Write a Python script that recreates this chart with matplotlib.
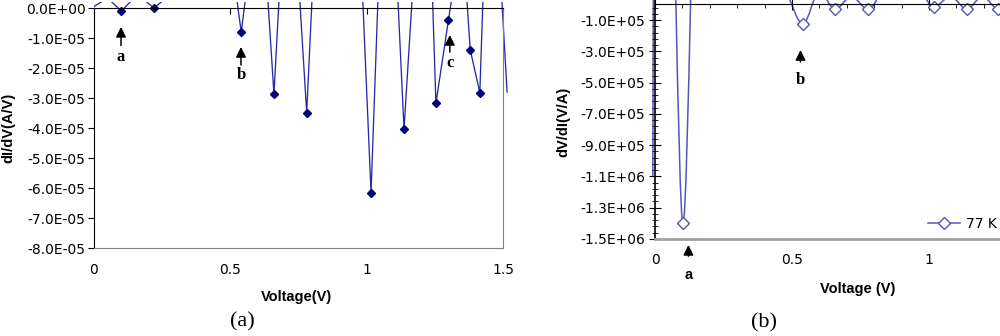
import numpy as np
import matplotlib
matplotlib.use('Agg')
import matplotlib.pyplot as plt
from matplotlib.path import Path
from matplotlib.patches import PathPatch, Rectangle
from matplotlib.lines import Line2D
from matplotlib.ticker import FixedLocator, MultipleLocator

plt.rcParams['font.family'] = ['Liberation Sans', 'DejaVu Sans']
plt.rcParams['font.size'] = 10

# (a) dI/dV vs voltage, in units of 1E-05 A/V (peaks run off the top of the axis)
volt_a = np.array([0.0, 0.05, 0.10, 0.16, 0.22, 0.28, 0.47, 0.54, 0.61, 0.66, 0.714,
                   0.78, 0.897, 1.016, 1.073, 1.137, 1.216, 1.254, 1.30, 1.35, 1.38,
                   1.415, 1.452, 1.515])
didv_a = np.array([0.05, 0.33, -0.10, 0.45, 0.0, 0.45, 3.9, -0.8, 4.2, -2.88, 6.3,
                   -3.49, 19.1, -6.16, 8.3, -4.04, 7.5, -3.18, -0.4, 2.6, -1.4,
                   -2.82, 7.2, -2.8]) * 1e-5

# (b) dV/dI vs voltage at 77 K, in units of 1E+05 V/A
volt_b = np.array([-0.008, -0.006, 0.05, 0.102, 0.16, 0.48, 0.54, 0.60, 0.657, 0.717,
                   0.777, 0.90, 1.018, 1.078, 1.138, 1.195, 1.253, 1.31])
dvdi_b = np.array([-11.0, 0.6, 14.6, -14.0, 16.1, 0.82, -1.25, 0.82, -0.31, 0.5,
                   -0.31, 3.3, -0.15, 0.5, -0.30, 0.5, -0.30, 0.5]) * 1e5

yt_a = np.arange(-8, 1) * 1e-5
yt_b = np.arange(-15, 0, 2) * 1e5
xt_a = [0, 0.5, 1, 1.5]
xt_a_lab = ['0', '0.5', '1', '1.5']
xt_b = [0, 0.5, 1]
xt_b_lab = ['0', '0.5', '1']

tick_font = dict(family='DejaVu Sans', size=10)


def smooth_path(x, y):
    # monotone cubic through the points, as bezier segments (smoothed line look)
    h = np.diff(x)
    d = np.diff(y) / h
    m = np.zeros(len(x))
    m[0], m[-1] = d[0], d[-1]
    for k in range(1, len(x) - 1):
        if d[k - 1] * d[k] > 0:
            w1 = 2 * h[k] + h[k - 1]
            w2 = h[k] + 2 * h[k - 1]
            m[k] = (w1 + w2) / (w1 / d[k - 1] + w2 / d[k])
    verts = [(x[0], y[0])]
    codes = [Path.MOVETO]
    for k in range(len(x) - 1):
        verts += [(x[k] + h[k] / 3, y[k] + m[k] * h[k] / 3),
                  (x[k + 1] - h[k] / 3, y[k + 1] - m[k + 1] * h[k] / 3),
                  (x[k + 1], y[k + 1])]
        codes += [Path.CURVE4] * 3
    return Path(verts, codes)


fig = plt.figure(figsize=(10, 3.36), dpi=100)

# ---------- panel (a)
ax1 = fig.add_axes([0.094, 1 - 248 / 336, 0.409, 246 / 336])
ax1.set_xlim(0, 1.5)
ax1.set_ylim(-8e-5, 0.2e-5)
ln, = ax1.plot(volt_a, didv_a, color='#2a2aa8', lw=0.95)
ln.set_clip_path(Rectangle((0, 0), 1.02, 1, transform=ax1.transAxes))
mask = (didv_a <= 0) & (volt_a <= 1.5)
ax1.plot(volt_a[mask], didv_a[mask], 'D', ms=4.5, color='#00007a', ls='none')

ax1.spines['top'].set_position(('data', 0))
ax1.spines['top'].set_color('black')
ax1.spines['left'].set_bounds(-8e-5, 0)
ax1.spines['right'].set_bounds(-8e-5, 0)
ax1.spines['right'].set_color('#808080')
ax1.spines['bottom'].set_color('#808080')
ax1.set_xticks(xt_a)
ax1.set_xticklabels(xt_a_lab, fontdict=tick_font)
ax1.tick_params(axis='x', bottom=False, top=True, labelbottom=True, labeltop=False,
                direction='in', length=4, pad=11)
ax1.set_yticks(yt_a)
ax1.set_yticklabels([f'{v:.1E}' for v in yt_a], fontdict=tick_font)
ax1.tick_params(axis='y', direction='out', length=4, pad=2)

arrow = dict(arrowstyle='-|>,head_length=0.6,head_width=0.3', color='black',
             lw=1.1, shrinkA=0, shrinkB=0)
for lab, xv, yh, yt, ytx in [('a', 0.099, -0.63e-5, -1.25e-5, -1.63e-5),
                             ('b', 0.539, -1.30e-5, -1.90e-5, -2.22e-5),
                             ('c', 1.305, -0.90e-5, -1.47e-5, -1.83e-5)]:
    ax1.annotate('', xy=(xv, yh), xytext=(xv, yt), arrowprops=arrow)
    ax1.text(xv, ytx, lab, ha='center', va='center', family='Liberation Serif',
             fontweight='bold', fontsize=12)

fig.text(0.008, 1 - 128 / 336, 'dI/dV(A/V)', rotation=90, ha='center', va='center',
         fontweight='bold', fontsize=10.5)
fig.text(0.297, 1 - 297 / 336, 'Voltage(V)', ha='center', va='center',
         fontweight='bold', fontsize=10.5)
fig.text(0.2425, 1 - 322 / 336, '(a)', ha='center', va='center',
         family='Liberation Serif', fontsize=16)

# ---------- panel (b)
ax2 = fig.add_axes([0.655, 1 - 239 / 336, 0.411, 239 / 336])
ax2.set_xlim(0, 1.5)
ax2.set_ylim(-15e5, 0.28e5)
col_b = '#5656b8'
curve = PathPatch(smooth_path(volt_b, dvdi_b), facecolor='none', edgecolor=col_b, lw=1.1)
ax2.add_patch(curve)
curve.set_clip_path(Rectangle((-0.02, 0), 1.02, 1, transform=ax2.transAxes))
mb = (dvdi_b <= 0) & (volt_b >= 0)
ax2.plot(volt_b[mb], dvdi_b[mb], 'D', ms=6, mfc='white', mec=col_b, mew=1.0, ls='none')

ax2.spines['top'].set_position(('data', 0))
ax2.spines['top'].set_color('black')
ax2.spines['right'].set_visible(False)
ax2.spines['bottom'].set_color('#a0a0a0')
ax2.spines['bottom'].set_linewidth(2)
ax2.spines['left'].set_linewidth(1.2)
ax2.set_xticks(xt_b)
ax2.set_xticklabels(xt_b_lab, fontdict=tick_font)
ax2.xaxis.set_minor_locator(MultipleLocator(0.1))
ax2.tick_params(axis='x', which='both', bottom=False, top=True, labelbottom=True,
                labeltop=False)
ax2.tick_params(axis='x', which='major', direction='inout', length=8, pad=6)
ax2.tick_params(axis='x', which='minor', direction='in', length=3)
ax2.set_yticks(yt_b)
ax2.set_yticklabels([f'{v:.1E}' for v in yt_b], fontdict=tick_font)
ax2.yaxis.set_minor_locator(FixedLocator(np.arange(-15, 0.1, 0.4) * 1e5))
ax2.tick_params(axis='y', which='major', direction='inout', length=8, pad=3)
ax2.tick_params(axis='y', which='minor', direction='inout', length=4)

ax2.annotate('', xy=(0.531, -2.92e5), xytext=(0.531, -3.68e5), arrowprops=arrow)
ax2.text(0.531, -4.83e5, 'b', ha='center', va='center', family='Liberation Serif',
         fontweight='bold', fontsize=12)
ax2.annotate('', xy=(0.122, -15.38e5), xytext=(0.122, -16.1e5), arrowprops=arrow,
             annotation_clip=False)
ax2.text(0.122, -17.3e5, 'a', ha='center', va='center', fontweight='bold',
         fontsize=10.5, clip_on=False)

fig.text(0.563, 1 - 122 / 336, 'dV/dI(V/A)', rotation=90, ha='center', va='center',
         fontweight='bold', fontsize=10.5)
fig.text(0.858, 1 - 289 / 336, 'Voltage (V)', ha='center', va='center',
         fontweight='bold', fontsize=10.5)
fig.text(0.764, 1 - 323 / 336, '(b)', ha='center', va='center',
         family='Liberation Serif', fontsize=16)

proxy = Line2D([], [], color=col_b, lw=1.1, marker='D', ms=6, mfc='white', mec=col_b)
fig.legend(handles=[proxy], labels=['77 K'], loc='center left',
           bbox_to_anchor=(0.928, 1 - 224 / 336), frameon=False, handlelength=2.3,
           handletextpad=0.4, borderpad=0, borderaxespad=0,
           prop=dict(family='DejaVu Sans', size=10))

fig.savefig('out.png', dpi=100)
